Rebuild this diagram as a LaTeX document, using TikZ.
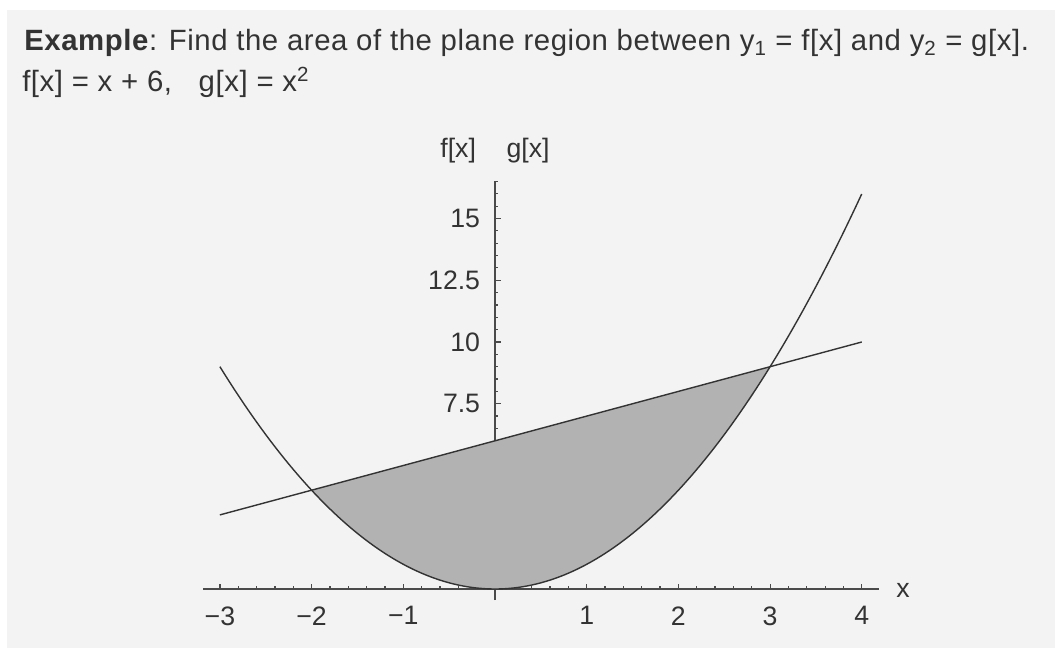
\documentclass[tikz,border=0pt]{standalone}
\usepackage{fontspec}
\setmainfont{Liberation Sans}
\newfontfamily\titlefont[LetterSpace=2]{Liberation Sans}
\definecolor{panel}{HTML}{F3F3F3}
\definecolor{ink}{HTML}{333333}
\definecolor{axiscol}{HTML}{4A4A4A}
\definecolor{shade}{HTML}{B2B2B2}
\tikzset{
  txt/.style={text=ink, inner sep=0pt, font=\fontsize{20}{24}\selectfont},
  ttl/.style={text=ink, inner sep=0pt, font=\titlefont\fontsize{22}{26}\selectfont},
  axisline/.style={draw=axiscol, line width=1.2pt},
  tickline/.style={draw=axiscol, line width=0.9pt},
  curve/.style={draw=ink, line width=1.05pt},
  region/.style={fill=shade}
}
\begin{document}
\begin{tikzpicture}[x=0.75pt,y=0.75pt]
\useasboundingbox (0,0) rectangle (1055,648);
\fill[white] (0,0) rectangle (1055,648);
\fill[panel] (7,0) rectangle (1055,638);
% title
\node[ttl, anchor=base west] (line1) at (24,597) {\textbf{Example}: Find the area of the plane region between y\textsubscript{1} = f[x] and y\textsubscript{2} = g[x].};
\node[ttl, anchor=base west] (line2) at (22,556) {f[x] = x + 6,\hspace{20pt}g[x] = x\textsuperscript{2}};
\begin{scope}[shift={(495,59)}, x=68.775pt, y=18.525pt]
  % axes
  \draw[axisline] (-3.18,0) -- (4.19,0);
  \draw[axisline] (0,-0.45) -- (0,16.5);
  \foreach \k in {-15,...,20} \draw[tickline] (\k/5,0) -- ++(0,2.6pt);
  \foreach \i in {-3,...,4} \draw[tickline] (\i,0) -- ++(0,4pt);
  \foreach \k in {0,...,33} \draw[tickline] (0,\k/2) -- ++(2.6pt,0);
  \foreach \k in {1,...,6} \draw[tickline] (0,\k*2.5) -- ++(4.5pt,0);
  % tick labels
  \foreach \i/\t in {-3/−3,-2/−2,-1/−1,1/1,2/2,3/3,4/4}
    \node[txt, anchor=north] (xl\i) at ([yshift=-13pt]\i,0) {\t};
  \foreach \v/\n in {7.5/a,10/b,12.5/c,15/d}
    \node[txt, anchor=east] (yl\n) at ([xshift=-11pt]0,\v) {\v};
  \node[txt] (xlab) at (4.45,-0.05) {x};
  \node[txt] (ylab) at (0,17.75) {f[x]\hspace{23pt}g[x]};
  % shaded region
  \fill[region] (-2,4) -- (3,9) -- plot[domain=3:-2, samples=80, smooth] (\x,{\x*\x}) -- cycle;
  % curves
  \draw[curve] plot[domain=-3:4, samples=100, smooth] (\x,{\x*\x});
  \draw[curve] (-3,3) -- (4,10);
\end{scope}
\end{tikzpicture}
\end{document}
